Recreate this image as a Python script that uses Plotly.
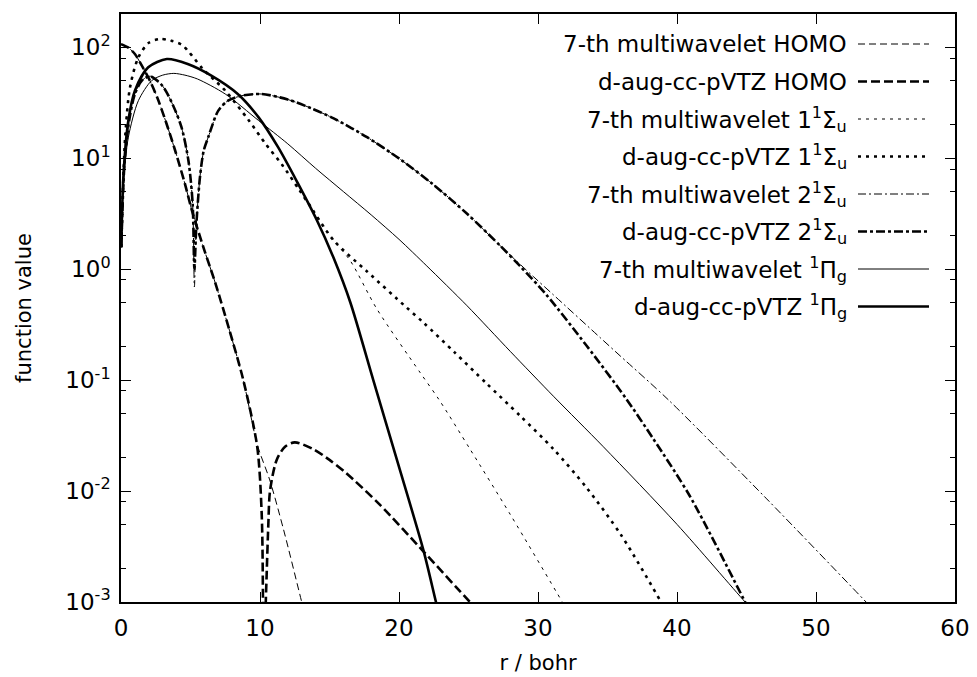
import plotly.graph_objects as go

# ---- radial distance (bohr) and |function value| for each orbital ----
r_homo_mw = [0, 0.5, 1.0, 1.5, 2.0, 2.6, 3.2, 3.9, 4.6, 5.1, 6.0, 6.8, 7.8, 8.8, 9.8,
             10.7, 11.7, 13.0, 13.5]
v_homo_mw = [107, 100, 87.1, 68.4, 52.5, 35.5, 21.9, 11.7, 5.89, 3.39, 1.48, 0.741, 0.282,
             0.1, 0.0263, 0.0126, 0.00447, 0.001, 0.000562]

r_homo_aug = [0, 0.5, 1.0, 1.5, 2.0, 2.6, 3.2, 3.9, 4.6, 5.1, 6.0, 6.8, 7.8, 8.8, 9.8,
              10.12, 10.22, 10.3, 10.38, 10.48, 10.6, 10.72, 11.2, 11.8, 12.5, 13.8, 15.0,
              16.2, 18.6, 21.8, 25.1, 26.0]
v_homo_aug = [107, 100, 87.1, 68.4, 52.5, 35.5, 21.9, 11.7, 5.89, 3.39, 1.48, 0.741, 0.282,
              0.1, 0.0251, 0.00631, 0.000794, 1e-7, 0.000631, 0.00178, 0.00501, 0.01,
              0.0191, 0.0251, 0.0275, 0.024, 0.0191, 0.0145, 0.00759, 0.00282, 0.001,
              0.000759]

r_s1_mw = [0.02, 0.3, 0.65, 1.25, 2.0, 2.8, 3.6, 4.4, 5.9, 7.5, 9.2, 10.4, 11.6, 12.8, 13.5,
           15.3, 16.5, 18.4, 21.5, 22.9, 25.1, 28.0, 31.75, 32.5]
v_s1_mw = [1.58, 15.5, 43.7, 81.3, 110, 119, 115, 105, 63.8, 40.7, 21.9, 13.5, 8.71, 5.25,
           3.89, 1.82, 1.19, 0.44, 0.118, 0.0661, 0.024, 0.00617, 0.001, 0.000692]

r_s1_aug = [0.02, 0.3, 0.65, 1.25, 2.0, 2.8, 3.6, 4.4, 5.9, 7.5, 9.2, 10.4, 11.6, 12.8, 13.5,
            15.3, 17.7, 20.5, 21.75, 24.0, 26.3, 28.7, 31.1, 33.5, 36.0, 38.85, 39.5]
v_s1_aug = [1.58, 15.5, 43.7, 81.3, 110, 119, 115, 105, 63.8, 40.7, 21.9, 13.5, 8.71, 5.25,
            3.89, 1.82, 0.955, 0.457, 0.331, 0.178, 0.0933, 0.0479, 0.024, 0.0107, 0.00398,
            0.001, 0.000708]

r_s2_mw = [0.02, 0.25, 0.6, 1.0, 1.5, 2.1, 3.0, 3.7, 4.35, 4.85, 5.15, 5.28, 5.42, 5.68, 5.95,
           6.3, 7.0, 7.7, 8.7, 10.1, 12.0, 13.7, 15.3, 17.7, 20.1, 22.4, 24.9, 27.3, 29.7,
           31.1, 34.5, 35.9, 39.4, 46.45, 53.6, 54.5]
v_s2_mw = [1.58, 8.91, 22.4, 38.0, 50.1, 55.0, 44.7, 30.9, 19.1, 9.55, 3.98, 0.692, 2.51,
           6.76, 11.7, 15.8, 26.9, 33.1, 36.7, 38.0, 33.9, 28.2, 22.9, 15.5, 9.77, 5.89, 3.16,
           1.62, 0.851, 0.589, 0.240, 0.166, 0.0661, 0.00851, 0.001, 0.000759]

r_s2_aug = [0.02, 0.25, 0.6, 1.0, 1.5, 2.1, 3.0, 3.7, 4.35, 4.85, 5.15, 5.28, 5.42, 5.68, 5.95,
            6.3, 7.0, 7.7, 8.7, 10.1, 12.0, 13.7, 15.3, 17.7, 20.1, 22.4, 24.9, 27.3, 28.7,
            30.6, 33.5, 36.3, 38.3, 40.9, 44.9, 45.5]
v_s2_aug = [1.58, 8.91, 22.4, 38.0, 50.1, 55.0, 44.7, 30.9, 19.1, 9.55, 3.98, 1.0, 2.51,
            6.76, 11.7, 15.8, 26.9, 33.1, 36.7, 38.0, 33.9, 28.2, 22.9, 15.5, 9.77, 5.89, 3.16,
            1.62, 1.07, 0.589, 0.204, 0.0692, 0.0295, 0.00912, 0.001, 0.000708]

r_pi_mw = [0.02, 0.17, 0.53, 1.25, 2.2, 3.0, 3.8, 4.6, 5.5, 7.5, 9.9, 12.0, 14.0, 16.0, 18.0,
           20.0, 22.0, 24.9, 28.0, 31.15, 34.7, 40.0, 44.9, 45.5]
v_pi_mw = [1.58, 5.89, 15.5, 33.1, 50.1, 56.2, 58.3, 56.2, 51.9, 38.0, 21.9, 13.5, 8.13, 5.01,
           3.09, 1.86, 1.07, 0.468, 0.182, 0.0708, 0.0251, 0.00501, 0.001, 0.000832]

r_pi_aug = [0.02, 0.17, 0.53, 1.0, 1.96, 3.3, 4.8, 6.5, 8.4, 9.9, 11.3, 12.7, 14.1, 15.3, 16.5,
            18.15, 19.9, 21.75, 22.66, 23.0]
v_pi_aug = [1.58, 6.76, 21.9, 40.7, 66.1, 78.5, 70.8, 55.6, 38.0, 23.4, 12.6, 6.03, 2.75,
            1.26, 0.501, 0.1, 0.0182, 0.00295, 0.001, 0.000676]

# ---- axis ticks ----
x_ticks = [0, 10, 20, 30, 40, 50, 60]
y_ticks = [1e-3, 1e-2, 1e-1, 1e0, 1e1, 1e2]
y_tick_text = ["10<sup>-3</sup>", "10<sup>-2</sup>", "10<sup>-1</sup>", "10<sup>0</sup>",
               "10<sup>1</sup>", "10<sup>2</sup>"]
y_minor = [m * d for d in [1e-3, 1e-2, 1e-1, 1e0, 1e1, 1e2] for m in (2, 5, 8)
           if m * d < 190]

series = [
    ("7-th multiwavelet HOMO", r_homo_mw, v_homo_mw, 1.0, "7px,4px"),
    ("d-aug-cc-pVTZ HOMO", r_homo_aug, v_homo_aug, 2.6, "9px,4px"),
    ("7-th multiwavelet 1<sup>1</sup>Σ<sub>u</sub>", r_s1_mw, v_s1_mw, 1.0, "3px,5px"),
    ("d-aug-cc-pVTZ 1<sup>1</sup>Σ<sub>u</sub>", r_s1_aug, v_s1_aug, 2.6, "3px,5px"),
    ("7-th multiwavelet 2<sup>1</sup>Σ<sub>u</sub>", r_s2_mw, v_s2_mw, 1.0, "8px,3px,2px,3px"),
    ("d-aug-cc-pVTZ 2<sup>1</sup>Σ<sub>u</sub>", r_s2_aug, v_s2_aug, 2.6, "9px,3px,3px,3px"),
    ("7-th multiwavelet <sup>1</sup>Π<sub>g</sub>", r_pi_mw, v_pi_mw, 1.0, "solid"),
    ("d-aug-cc-pVTZ <sup>1</sup>Π<sub>g</sub>", r_pi_aug, v_pi_aug, 2.6, "solid"),
]

FONT = "DejaVu Sans"
fig = go.Figure()
for name, r, v, w, dash in series:
    fig.add_trace(go.Scatter(
        x=r, y=v, mode="lines", name=name, showlegend=False,
        line=dict(color="black", width=w, dash=dash, shape="spline", smoothing=0.8),
    ))

# key drawn in the upper right: right-aligned text followed by a line sample
row_top, row_step = 44.0, 37.5
plot_top, plot_h = 14.0, 588.0
text_right = (849 - 121) / 834
sample_x0, sample_x1 = (858 - 121) / 834, (929 - 121) / 834
for i, (name, r, v, w, dash) in enumerate(series):
    ypx = row_top + i * row_step
    yp = 1 - (ypx - plot_top) / plot_h
    fig.add_annotation(x=text_right, y=yp, xref="paper", yref="paper", text=name,
                       showarrow=False, xanchor="right", yanchor="middle",
                       font=dict(family=FONT, size=23, color="black"))
    fig.add_shape(type="line", xref="paper", yref="paper", x0=sample_x0, x1=sample_x1,
                  y0=yp, y1=yp, line=dict(color="black", width=w, dash=dash))

axis_common = dict(showline=True, linecolor="black", linewidth=1.5, mirror="allticks",
                   ticks="inside", ticklen=10, tickwidth=1.3, tickcolor="black",
                   showgrid=False, zeroline=False, automargin=False,
                   tickfont=dict(family=FONT, size=23, color="black"))

fig.update_xaxes(range=[0, 60], tickmode="array", tickvals=x_ticks, ticklabelstandoff=5,
                 title=dict(text="r / bohr", standoff=15,
                            font=dict(family=FONT, size=21, color="black")),
                 **axis_common)
fig.update_yaxes(type="log", range=[-3, 2.301], tickmode="array", tickvals=y_ticks,
                 ticktext=y_tick_text, ticklabelstandoff=4,
                 minor=dict(tickmode="array", tickvals=y_minor, ticks="inside", ticklen=5,
                            tickwidth=1.3, tickcolor="black", showgrid=False),
                 title=dict(text="function value", standoff=28,
                            font=dict(family=FONT, size=21, color="black")),
                 **axis_common)

fig.update_layout(width=977, height=677, margin=dict(l=121, r=22, t=14, b=75),
                  paper_bgcolor="white", plot_bgcolor="white",
                  font=dict(family=FONT, color="black"))

fig.write_html("out.html")
